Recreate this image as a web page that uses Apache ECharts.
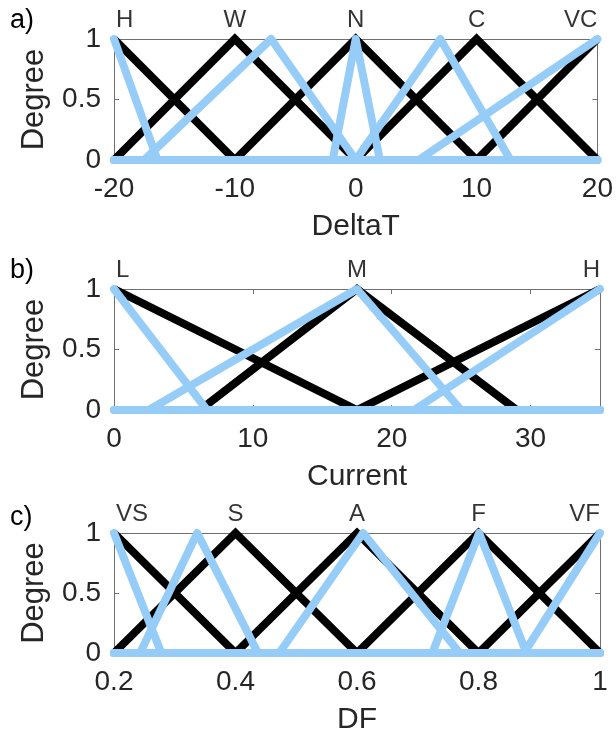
<!DOCTYPE html>
<html>
<head>
<meta charset="utf-8">
<script src="https://cdn.jsdelivr.net/npm/echarts@6/dist/echarts.min.js"></script>
<style>
html,body{margin:0;padding:0;background:#fff;}
#chart{width:616px;height:739px;}
</style>
</head>
<body>
<div id="chart"></div>
<script>
// ---- Panel a) DeltaT ----
const deltaTTicks = [-20, -10, 0, 10, 20];
const deltaTTerms = ['H', 'W', 'N', 'C', 'VC'];
const deltaTPeaks = [-20, -10, 0, 10, 20];
// triangles [left foot, peak, right foot]
const deltaTBlack = [[-20, -20, -10], [-20, -10, 0], [-10, 0, 10], [0, 10, 20], [10, 20, 20]];
const deltaTBlue  = [[-20, -20, -16.4], [-17.5, -7, 0], [-1.9, 0, 2], [0, 7, 12.8], [5.2, 20, 20]];

// ---- Panel b) Current ----
const currentTicks = [0, 10, 20, 30];
const currentTerms = ['L', 'M', 'H'];
const currentPeaks = [0, 17.5, 35];
const currentBlack = [[0, 0, 17.5], [6.2, 17.5, 29], [17.5, 35, 35]];
const currentBlue  = [[0, 0, 6.7], [2.5, 17.5, 25], [21.6, 35, 35]];

// ---- Panel c) DF ----
const dfTicks = [0.2, 0.4, 0.6, 0.8, 1];
const dfTerms = ['VS', 'S', 'A', 'F', 'VF'];
const dfPeaks = [0.2, 0.4, 0.6, 0.8, 1];
const dfBlack = [[0.2, 0.2, 0.4], [0.2, 0.4, 0.6], [0.4, 0.6, 0.8], [0.6, 0.8, 1], [0.8, 1, 1]];
const dfBlue  = [[0.2, 0.2, 0.278], [0.243, 0.337, 0.437], [0.472, 0.61, 0.769], [0.724, 0.801, 0.879], [0.875, 1, 1]];

const degreeTicks = [0, 0.5, 1];

const panels = [
  {letter: 'a)', name: 'DeltaT', ticks: deltaTTicks, terms: deltaTTerms, peaks: deltaTPeaks, black: deltaTBlack, blue: deltaTBlue, min: -20, max: 20, interval: 10, top: 39, height: 121, letterY: 7},
  {letter: 'b)', name: 'Current', ticks: currentTicks, terms: currentTerms, peaks: currentPeaks, black: currentBlack, blue: currentBlue, min: 0, max: 35, interval: 10, top: 289, height: 121, letterY: 257},
  {letter: 'c)', name: 'DF', ticks: dfTicks, terms: dfTerms, peaks: dfPeaks, black: dfBlack, blue: dfBlue, min: 0.2, max: 1, interval: 0.2, top: 533, height: 120, letterY: 504}
];

const FONT = "'Liberation Sans', Arial, sans-serif";
const TXT = '#262626';
const AX = '#707070';
const BLUE = '#96cdf8';

function tri(t, lo, hi) {
  const [a, b, c] = t;
  const pts = [];
  if (a > lo) pts.push([lo, 0]);
  if (a < b) pts.push([a, 0]);
  pts.push([b, 1]);
  if (c > b) pts.push([c, 0]);
  if (c < hi) pts.push([hi, 0]);
  return pts;
}

const grid = [], xAxis = [], yAxis = [], series = [], graphic = [];

panels.forEach((p, i) => {
  grid.push({left: 114, right: 16, top: p.top, height: p.height});
  const tickSet = p.ticks;
  const fmt = v => {
    for (const t of tickSet) if (Math.abs(t - v) < 1e-6) return String(t);
    return '';
  };
  xAxis.push({
    type: 'value', gridIndex: i, min: p.min, max: p.max, interval: p.interval, position: 'bottom',
    name: p.name, nameLocation: 'middle', nameGap: 52,
    nameTextStyle: {fontFamily: FONT, fontSize: 30, color: TXT},
    axisLine: {show: true, onZero: false, lineStyle: {color: AX, width: 1}},
    axisTick: {show: true, inside: true, length: 5, lineStyle: {color: AX}},
    axisLabel: {show: true, margin: 15, fontFamily: FONT, fontSize: 28, color: TXT, formatter: fmt, showMaxLabel: true, showMinLabel: true},
    splitLine: {show: false}
  });
  xAxis.push({
    type: 'value', gridIndex: i, min: p.min, max: p.max, interval: p.interval, position: 'top',
    axisLine: {show: true, onZero: false, lineStyle: {color: AX, width: 1}},
    axisTick: {show: true, inside: true, length: 5, lineStyle: {color: AX}},
    axisLabel: {show: false}, splitLine: {show: false}
  });
  yAxis.push({
    type: 'value', gridIndex: i, min: 0, max: 1, interval: 0.5, position: 'left',
    name: 'Degree', nameLocation: 'middle', nameGap: 64,
    nameTextStyle: {fontFamily: FONT, fontSize: 31, color: TXT},
    axisLine: {show: true, onZero: false, lineStyle: {color: AX, width: 1}},
    axisTick: {show: true, inside: true, length: 5, lineStyle: {color: AX}},
    axisLabel: {show: true, margin: 13, fontFamily: FONT, fontSize: 28, color: TXT,
      formatter: v => { for (const t of degreeTicks) if (Math.abs(t - v) < 1e-6) return String(t); return ''; }},
    splitLine: {show: false}
  });
  yAxis.push({
    type: 'value', gridIndex: i, min: 0, max: 1, interval: 0.5, position: 'right',
    axisLine: {show: true, onZero: false, lineStyle: {color: AX, width: 1}},
    axisTick: {show: true, inside: true, length: 5, lineStyle: {color: AX}},
    axisLabel: {show: false}, splitLine: {show: false}
  });
  p.black.forEach(t => series.push({
    type: 'line', xAxisIndex: 2 * i, yAxisIndex: 2 * i, data: tri(t, p.min, p.max),
    showSymbol: false, symbol: 'none', clip: false, silent: true, z: 3,
    lineStyle: {color: '#000', width: 8, join: 'miter'}
  }));
  p.blue.forEach(t => series.push({
    type: 'line', xAxisIndex: 2 * i, yAxisIndex: 2 * i, data: tri(t, p.min, p.max),
    showSymbol: false, symbol: 'none', clip: false, silent: true, z: 4,
    lineStyle: {color: BLUE, width: 8, join: 'round', cap: 'round'}
  }));
  const n = p.terms.length;
  series.push({
    type: 'scatter', xAxisIndex: 2 * i, yAxisIndex: 2 * i, symbolSize: 0, clip: false, silent: true, z: 5,
    data: p.terms.map((name, k) => ({
      value: [p.peaks[k], 1], name: name,
      label: {align: k === 0 ? 'left' : (k === n - 1 ? 'right' : 'center'), offset: [k === 0 ? 2 : 0, 0]}
    })),
    label: {show: true, position: 'top', distance: 7, formatter: d => d.name, fontFamily: FONT, fontSize: 24, color: '#000'}
  });
  graphic.push({type: 'text', left: 10, top: p.letterY, style: {text: p.letter, font: "27px " + FONT, fill: '#000'}});
});

const chart = echarts.init(document.getElementById('chart'), null, {renderer: 'canvas'});
chart.setOption({animation: false, backgroundColor: '#fff', grid, xAxis, yAxis, series, graphic});
</script>
</body>
</html>
